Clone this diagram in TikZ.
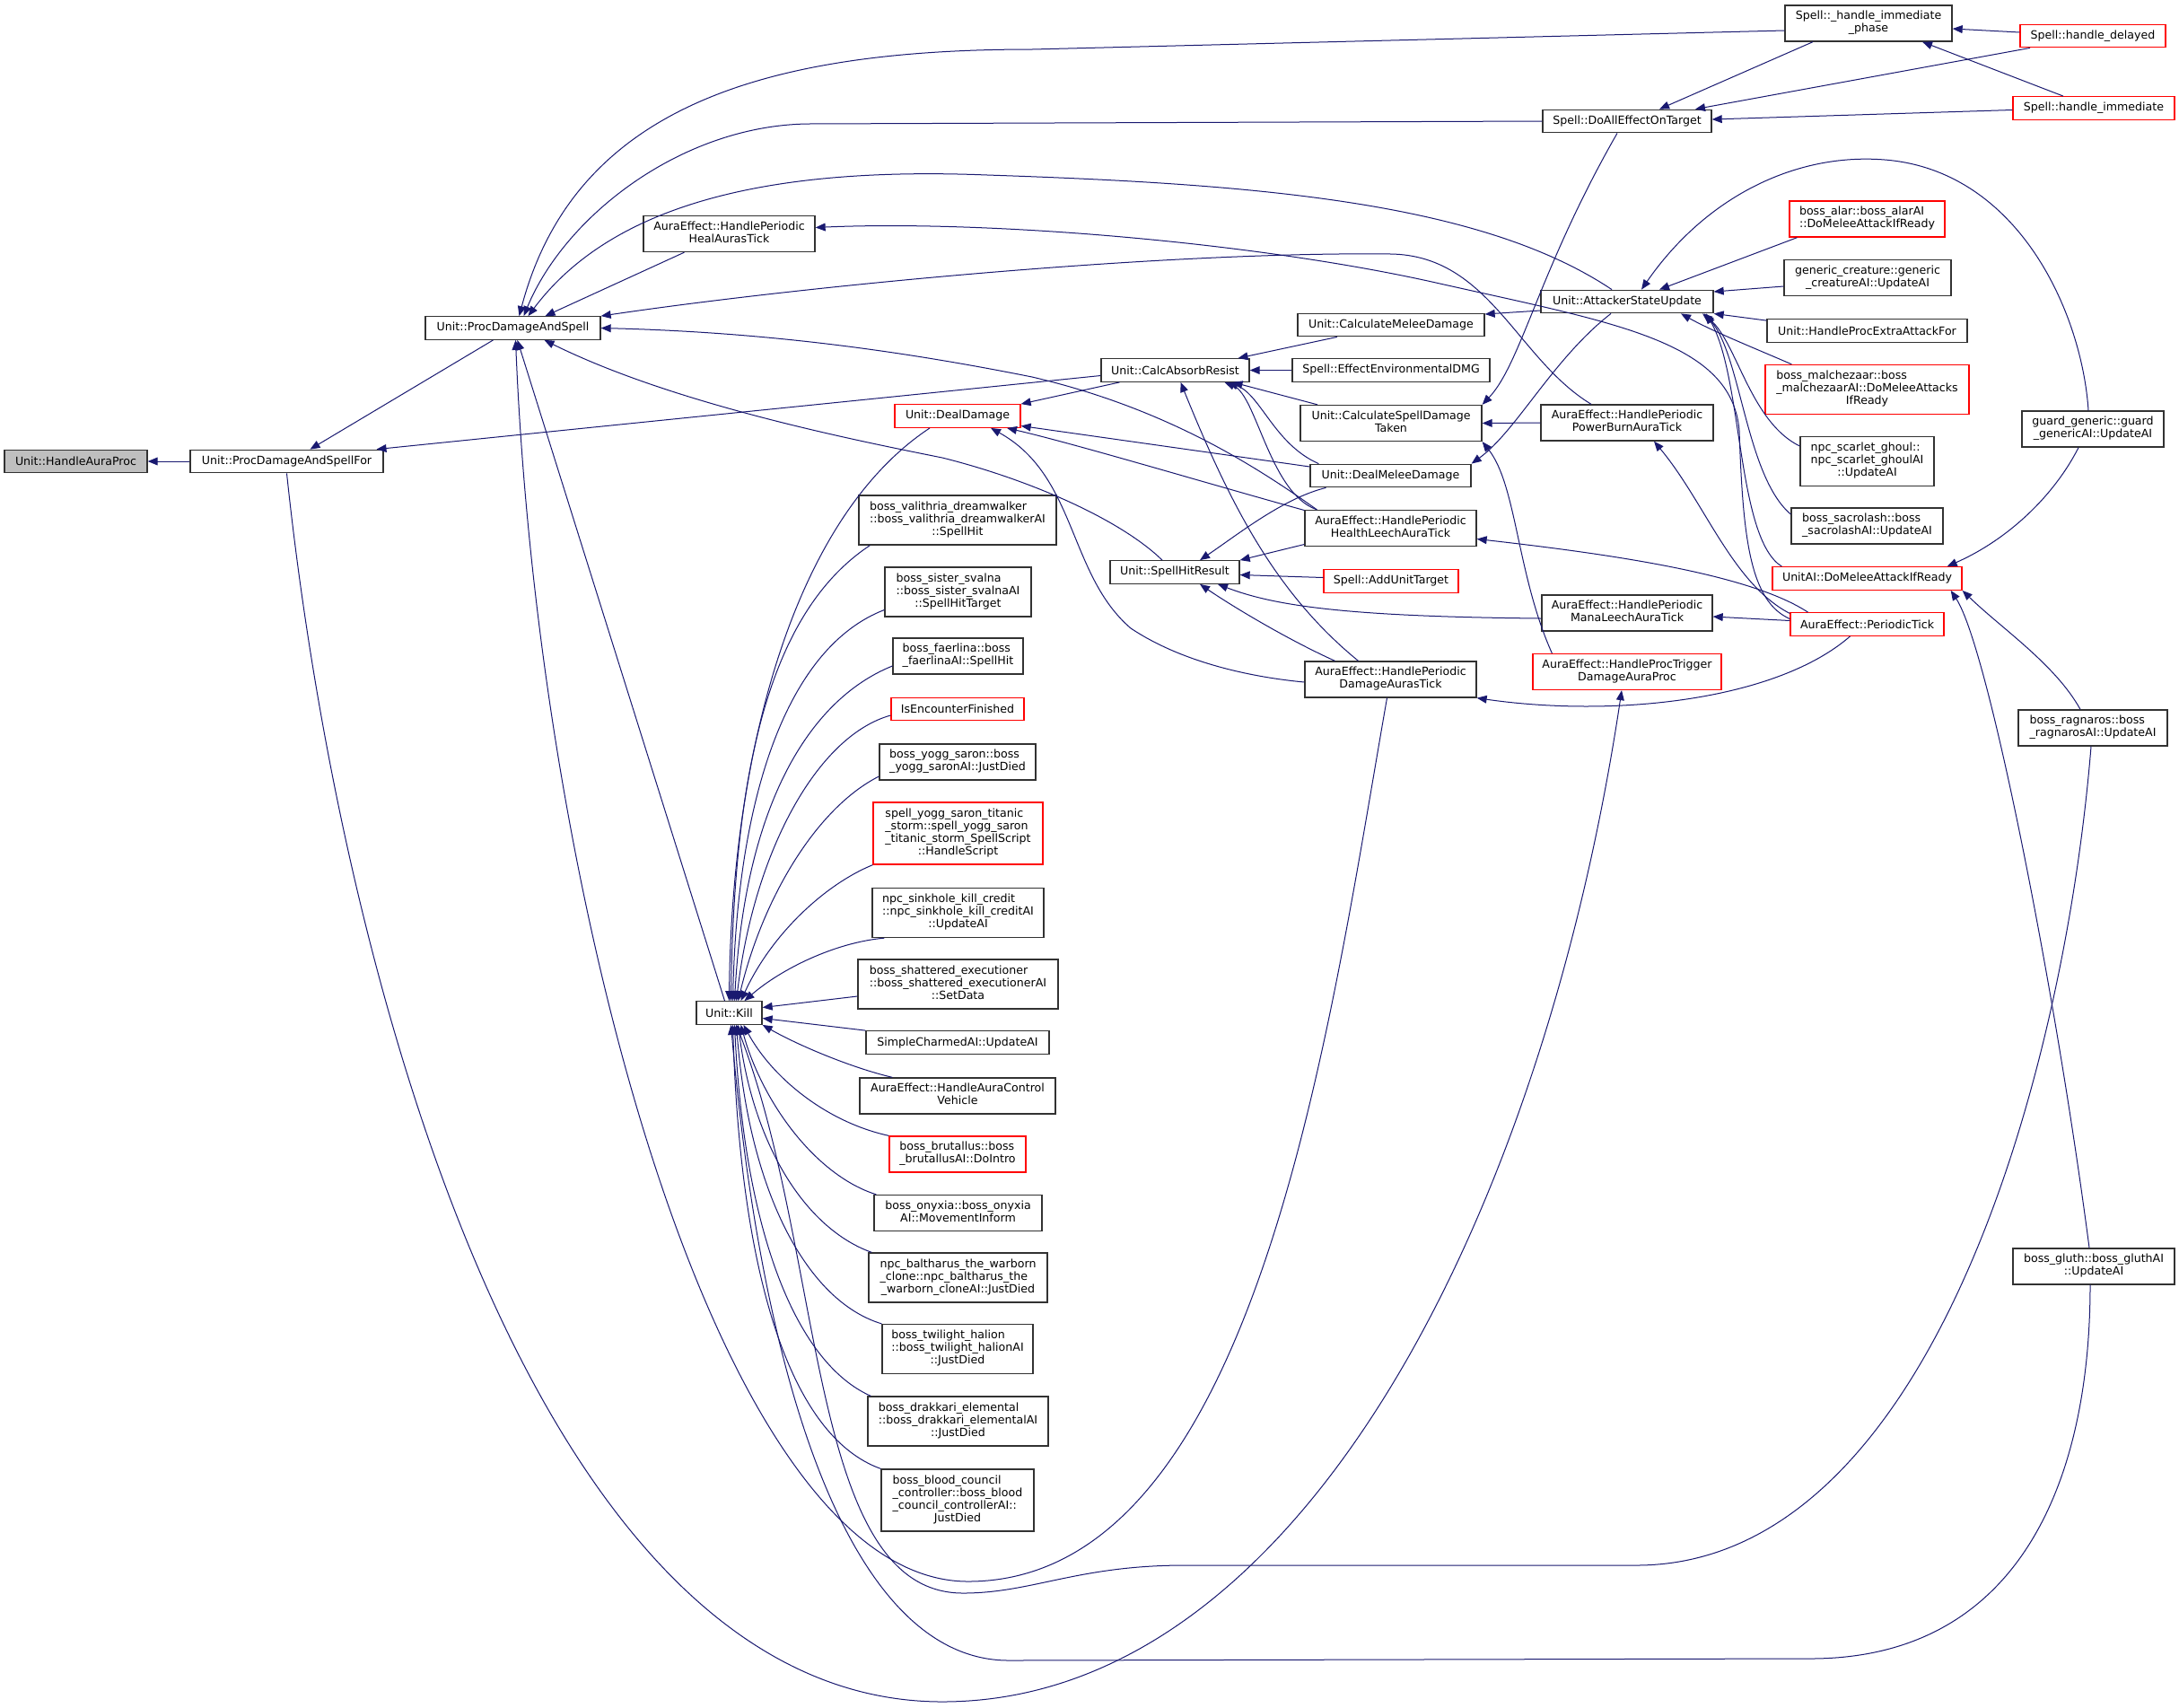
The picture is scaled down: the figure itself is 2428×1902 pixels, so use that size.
\documentclass[tikz,border=0pt]{standalone}
\usepackage{fontspec}
\setmainfont{DejaVu Sans}
\usetikzlibrary{arrows.meta}
\definecolor{edgeblue}{RGB}{25,25,112}
\definecolor{rootgray}{RGB}{191,191,191}
\definecolor{boxline}{RGB}{50,50,50}
\tikzstyle{call} = [draw=edgeblue, line width=0.5pt, arrows={Triangle[length=5.5pt,width=4.4pt]-}]
\tikzstyle{fn} = [rectangle, draw=boxline, line width=0.65pt, inner sep=0pt, fill=white]
\tikzstyle{fnred} = [fn, draw=red]
\tikzstyle{fnroot} = [fn, fill=rootgray]
\tikzset{every node/.style={font=\fontsize{6.3}{7}\selectfont}}
\tikzset{l1/.style={minimum height=12.75pt}, l2/.style={minimum height=20pt}, l3/.style={minimum height=27.5pt}, l4/.style={minimum height=34.5pt}}
\newcommand{\fnlines}[2]{\begin{tabular}{@{}l@{}}#1\\\multicolumn{1}{@{}c@{}}{#2}\end{tabular}}

\begin{document}
\begin{tikzpicture}[x=0.5pt, y=-0.5pt]
    \useasboundingbox (0,0) rectangle (2428,1902);
    \fill[white] (0,0) rectangle (2428,1902);

    \node[fnroot, l1, minimum width=79.5pt] (auraproc) at (84.5,514) {Unit::HandleAuraProc};
    \node[fn, l1, minimum width=107.5pt] (pdsfor) at (319.5,514) {Unit::ProcDamageAndSpellFor};
    \node[fn, l1, minimum width=97.5pt] (pds) at (571.5,365.5) {Unit::ProcDamageAndSpell};
    \node[fn, l2, minimum width=95.5pt] (healtick) at (812.5,260.5) {\fnlines{AuraEffect::HandlePeriodic}{HealAurasTick}};
    \node[fn, l1, minimum width=36.5pt] (kill) at (812.5,1128.5) {Unit::Kill};
    \node[fn, l2, minimum width=93pt] (immphase) at (2082,26) {\fnlines{Spell::\_handle\_immediate}{\_phase}};
    \node[fnred, l1, minimum width=81pt] (delayed) at (2332,40) {Spell::handle\_delayed};
    \node[fnred, l1, minimum width=90pt] (immediate) at (2333,120.5) {Spell::handle\_immediate};
    \node[fn, l1, minimum width=94pt] (doall) at (1813,135) {Spell::DoAllEffectOnTarget};
    \node[fnred, l2, minimum width=86.5pt] (alar) at (2080.5,244) {\fnlines{boss\_alar::boss\_alarAI}{::DoMeleeAttackIfReady}};
    \node[fn, l2, minimum width=93pt] (generic) at (2081,309.5) {\fnlines{generic\_creature::generic}{\_creatureAI::UpdateAI}};
    \node[fn, l1, minimum width=96pt] (attacker) at (1813,336) {Unit::AttackerStateUpdate};
    \node[fn, l1, minimum width=111.5pt] (extra) at (2080.5,368.5) {Unit::HandleProcExtraAttackFor};
    \node[fnred, l3, minimum width=113.5pt] (malchezaar) at (2080.5,434) {\fnlines{boss\_malchezaar::boss\\\_malchezaarAI::DoMeleeAttacks}{IfReady}};
    \node[fn, l3, minimum width=74.5pt] (ghoul) at (2080.5,514) {\fnlines{npc\_scarlet\_ghoul::\\npc\_scarlet\_ghoulAI}{::UpdateAI}};
    \node[fn, l2, minimum width=84.5pt] (sacrolash) at (2080.5,586) {\fnlines{boss\_sacrolash::boss}{\_sacrolashAI::UpdateAI}};
    \node[fn, l2, minimum width=79pt] (guard) at (2332,478) {\fnlines{guard\_generic::guard}{\_genericAI::UpdateAI}};
    \node[fnred, l1, minimum width=105.5pt] (meleeready) at (2080.5,644.5) {UnitAI::DoMeleeAttackIfReady};
    \node[fnred, l1, minimum width=85.5pt] (periodic) at (2080.5,695.5) {AuraEffect::PeriodicTick};
    \node[fn, l2, minimum width=95pt] (manaleech) at (1813,683) {\fnlines{AuraEffect::HandlePeriodic}{ManaLeechAuraTick}};
    \node[fnred, l2, minimum width=105pt] (proctrigger) at (1813,748.5) {\fnlines{AuraEffect::HandleProcTrigger}{DamageAuraProc}};
    \node[fn, l2, minimum width=83pt] (ragnaros) at (2332,811) {\fnlines{boss\_ragnaros::boss}{\_ragnarosAI::UpdateAI}};
    \node[fn, l2, minimum width=90pt] (gluth) at (2333,1411) {\fnlines{boss\_gluth::boss\_gluthAI}{::UpdateAI}};
    \node[fn, l1, minimum width=104pt] (meleedmg) at (1550,362) {Unit::CalculateMeleeDamage};
    \node[fn, l1, minimum width=82.5pt] (absorb) at (1309.5,412.5) {Unit::CalcAbsorbResist};
    \node[fn, l1, minimum width=110pt] (envdmg) at (1550,412.5) {Spell::EffectEnvironmentalDMG};
    \node[fn, l2, minimum width=101pt] (spelldmg) at (1550,471.5) {\fnlines{Unit::CalculateSpellDamage}{Taken}};
    \node[fnred, l1, minimum width=70pt] (dealdmg) at (1067,463.5) {Unit::DealDamage};
    \node[fn, l1, minimum width=89.5pt] (dealmelee) at (1549.5,530) {Unit::DealMeleeDamage};
    \node[fn, l2, minimum width=96pt] (powerburn) at (1813,471) {\fnlines{AuraEffect::HandlePeriodic}{PowerBurnAuraTick}};
    \node[fn, l2, minimum width=95.5pt] (healthleech) at (1549.5,588.5) {\fnlines{AuraEffect::HandlePeriodic}{HealthLeechAuraTick}};
    \node[fn, l1, minimum width=72pt] (spellhit) at (1309,637.5) {Unit::SpellHitResult};
    \node[fnred, l1, minimum width=75pt] (addtarget) at (1550,647.5) {Spell::AddUnitTarget};
    \node[fn, l2, minimum width=95.5pt] (dmgtick) at (1549.5,757) {\fnlines{AuraEffect::HandlePeriodic}{DamageAurasTick}};
    \node[fn, l3, minimum width=110pt] (valithria) at (1067,579.5) {\fnlines{boss\_valithria\_dreamwalker\\::boss\_valithria\_dreamwalkerAI}{::SpellHit}};
    \node[fn, l3, minimum width=81.5pt] (svalna) at (1067.5,659.5) {\fnlines{boss\_sister\_svalna\\::boss\_sister\_svalnaAI}{::SpellHitTarget}};
    \node[fn, l2, minimum width=72.5pt] (faerlina) at (1067.5,731) {\fnlines{boss\_faerlina::boss}{\_faerlinaAI::SpellHit}};
    \node[fnred, l1, minimum width=74pt] (encounter) at (1067,790) {IsEncounterFinished};
    \node[fn, l2, minimum width=87pt] (yogg) at (1067,849) {\fnlines{boss\_yogg\_saron::boss}{\_yogg\_saronAI::JustDied}};
    \node[fnred, l4, minimum width=94.5pt] (titanic) at (1067.5,928.5) {\fnlines{spell\_yogg\_saron\_titanic\\\_storm::spell\_yogg\_saron\\\_titanic\_storm\_SpellScript}{::HandleScript}};
    \node[fn, l3, minimum width=95.5pt] (sinkhole) at (1067.5,1017) {\fnlines{npc\_sinkhole\_kill\_credit\\::npc\_sinkhole\_kill\_creditAI}{::UpdateAI}};
    \node[fn, l3, minimum width=111.5pt] (shattered) at (1067.5,1096.5) {\fnlines{boss\_shattered\_executioner\\::boss\_shattered\_executionerAI}{::SetData}};
    \node[fn, l1, minimum width=102pt] (charmed) at (1067,1161.5) {SimpleCharmedAI::UpdateAI};
    \node[fn, l2, minimum width=109pt] (vehicle) at (1067,1221) {\fnlines{AuraEffect::HandleAuraControl}{Vehicle}};
    \node[fnred, l2, minimum width=76pt] (brutallus) at (1067,1286) {\fnlines{boss\_brutallus::boss}{\_brutallusAI::DoIntro}};
    \node[fn, l2, minimum width=93.5pt] (onyxia) at (1067.5,1351.5) {\fnlines{boss\_onyxia::boss\_onyxia}{AI::MovementInform}};
    \node[fn, l3, minimum width=99.5pt] (baltharus) at (1067.5,1423.5) {\fnlines{npc\_baltharus\_the\_warborn\\\_clone::npc\_baltharus\_the}{\_warborn\_cloneAI::JustDied}};
    \node[fn, l3, minimum width=84pt] (halion) at (1067,1503) {\fnlines{boss\_twilight\_halion\\::boss\_twilight\_halionAI}{::JustDied}};
    \node[fn, l3, minimum width=100.5pt] (drakkari) at (1067.5,1583.5) {\fnlines{boss\_drakkari\_elemental\\::boss\_drakkari\_elementalAI}{::JustDied}};
    \node[fn, l4, minimum width=85pt] (council) at (1067,1671.5) {\fnlines{boss\_blood\_council\\\_controller::boss\_blood\\\_council\_controllerAI::}{JustDied}};

    \draw[call] (auraproc.east) -- (pdsfor.west);
    \draw[call] ([xshift=13pt]pdsfor.north) -- ([xshift=-11pt]pds.south);
    \draw[call] ([xshift=50pt]pdsfor.north) -- ([yshift=-3pt]absorb.west);
    \draw[call] ([xshift=-3pt]proctrigger.south) .. controls (1720,1350) and (1450,1896) .. (1050,1896) .. controls (600,1896) and (380,1100) .. (pdsfor.south);

    \draw[call] ([xshift=3.5pt]pds.north) .. controls (640,120) and (850,55) .. (1150,55) -- ([yshift=-4pt]immphase.west);
    \draw[call] ([xshift=6pt]pds.north) .. controls (630,240) and (760,140) .. (900,138) -- (doall.west);
    \draw[call] ([xshift=8.5pt]pds.north) .. controls (680,230) and (850,185) .. (1100,195) .. controls (1400,205) and (1650,225) .. ([xshift=-8.5pt]attacker.north);
    \draw[call] ([xshift=18pt]pds.north) -- ([xshift=-25pt]healtick.south);
    \draw[call] (pds.north east) .. controls (900,318) and (1300,280) .. (1550,283) .. controls (1660,285) and (1690,400) .. ([xshift=-20pt]powerburn.north);
    \draw[call] (pds.east) .. controls (850,370) and (1000,390) .. (1150,420) .. controls (1300,455) and (1400,520) .. ([xshift=7pt]healthleech.north west);
    \draw[call] ([xshift=17.5pt]pds.south) .. controls (750,450) and (950,490) .. (1050,510) .. controls (1150,535) and (1250,580) .. ([xshift=-7pt]spellhit.north);
    \draw[call] ([xshift=2.5pt]pds.south) -- ([xshift=-2.5pt]kill.north);
    \draw[call] ([xshift=1.5pt]pds.south) .. controls (600,1000) and (800,1764) .. (1080,1762) .. controls (1400,1760) and (1480,1150) .. ([xshift=-2pt]dmgtick.south);

    \draw[call] ([yshift=-3pt]immphase.east) -- ([yshift=2pt]delayed.west);
    \draw[call] ([xshift=30pt]immphase.south) -- ([xshift=-17pt]immediate.north);
    \draw[call] ([xshift=18pt]doall.north) -- ([xshift=-31pt]immphase.south);
    \draw[call] ([xshift=38pt]doall.north) -- ([xshift=-35pt]delayed.south);
    \draw[call] ([yshift=1pt]doall.east) -- ([yshift=-1pt]immediate.west);
    \draw[call] (spelldmg.north east) .. controls (1695,405) and (1715,300) .. ([xshift=-5.5pt]doall.south);

    \draw[call] ([xshift=8pt]attacker.north) .. controls (1900,220) and (2000,170) .. (2100,178) .. controls (2250,190) and (2320,350) .. ([xshift=-2.5pt]guard.north);
    \draw[call] ([xshift=18pt]attacker.north) -- ([xshift=-39pt]alar.south);
    \draw[call] ([yshift=5.5pt]attacker.east) -- ([yshift=-4.75pt]generic.west);
    \draw[call] (attacker.south east) -- ([yshift=-1pt]extra.north west);
    \draw[call] ([xshift=30pt]attacker.south) .. controls (1910,370) and (1960,390) .. ([xshift=15pt]malchezaar.north west);
    \draw[call] ([xshift=42pt]attacker.south) .. controls (1935,380) and (1950,470) .. ([yshift=8.5pt]ghoul.west);
    \draw[call] ([xshift=43pt]attacker.south) .. controls (1940,395) and (1945,530) .. ([yshift=6.5pt]sacrolash.west);
    \draw[call] ([xshift=44pt]attacker.south) .. controls (1942,420) and (1935,600) .. ([xshift=5.5pt]meleeready.north west);
    \draw[call] ([yshift=6pt]meleedmg.east) -- ([yshift=-5pt]attacker.west);
    \draw[call] (dealmelee.north east) .. controls (1690,480) and (1730,400) .. ([xshift=-9pt]attacker.south);

    \draw[call] ([xshift=-8.5pt]meleeready.north east) .. controls (2240,600) and (2290,550) .. ([xshift=-8pt]guard.south);
    \draw[call] (meleeready.south east) .. controls (2230,700) and (2290,740) .. ([xshift=-7pt]ragnaros.north);
    \draw[call] ([xshift=-6.5pt]meleeready.south east) .. controls (2215,720) and (2290,1100) .. ([xshift=-2.5pt]gluth.north);

    \draw[call] ([xshift=35pt]absorb.north) -- ([xshift=-30pt]meleedmg.south);
    \draw[call] (absorb.east) -- (envdmg.west);
    \draw[call] ([xshift=32pt]absorb.south) -- ([xshift=-41pt]spelldmg.north);
    \draw[call] ([xshift=29.5pt]absorb.south) .. controls (1405,440) and (1420,495) .. ([xshift=5pt]dealmelee.north west);
    \draw[call] ([xshift=27.5pt]absorb.south) .. controls (1400,440) and (1415,550) .. ([xshift=7pt]healthleech.north west);
    \draw[call] ([xshift=3pt]absorb.south) .. controls (1370,560) and (1420,660) .. ([xshift=-18pt]dmgtick.north);

    \draw[call] (dealdmg.north east) -- ([xshift=-31pt]absorb.south);
    \draw[call] ([yshift=-5.5pt]dealdmg.east) -- ([yshift=5pt]dealmelee.west);
    \draw[call] ([xshift=27.5pt]dealdmg.south) .. controls (1200,495) and (1350,540) .. ([yshift=10pt]healthleech.west);
    \draw[call] ([xshift=18.5pt]dealdmg.south) .. controls (1200,530) and (1190,640) .. (1260,700) .. controls (1320,740) and (1400,755) .. ([yshift=-1.5pt]dmgtick.west);
    \draw[call] (kill.north) .. controls (815,850) and (880,580) .. ([xshift=-15.5pt]dealdmg.south);

    \draw[call] (spelldmg.east) -- (powerburn.west);
    \draw[call] (spelldmg.south east) .. controls (1690,540) and (1690,640) .. ([xshift=11pt]proctrigger.north west);

    \draw[call] ([xshift=14pt]spellhit.north) .. controls (1380,595) and (1430,555) .. ([xshift=-36pt]dealmelee.south);
    \draw[call] (spellhit.north east) -- ([yshift=-9pt]healthleech.west);
    \draw[call] ([yshift=-1.5pt]spellhit.east) -- ([yshift=2pt]addtarget.west);
    \draw[call] ([xshift=24pt]spellhit.south) .. controls (1420,675) and (1500,687) .. ([yshift=-3pt]manaleech.west);
    \draw[call] ([xshift=14pt]spellhit.south) .. controls (1380,680) and (1440,715) .. ([xshift=-31pt]dmgtick.north);

    \draw[call] ([yshift=3.5pt]healtick.east) .. controls (1100,245) and (1400,270) .. (1600,315) .. controls (1800,360) and (1930,380) .. (1938,480) .. controls (1942,600) and (1950,670) .. ([yshift=3pt]periodic.west);
    \draw[call] ([xshift=15pt]powerburn.south) .. controls (1900,560) and (1930,650) .. ([yshift=6pt]periodic.west);
    \draw[call] ([yshift=-2pt]manaleech.east) -- ([yshift=2pt]periodic.west);
    \draw[call] ([yshift=-6pt]healthleech.east) .. controls (1800,618) and (1950,640) .. ([xshift=-33pt]periodic.north);
    \draw[call] (dmgtick.south east) .. controls (1800,800) and (1980,780) .. ([xshift=-9.5pt]periodic.south);

    \draw[call] ([xshift=1pt]kill.north) .. controls (818,850) and (860,680) .. ([xshift=6.5pt]valithria.south west);
    \draw[call] ([xshift=2pt]kill.north) .. controls (822,880) and (880,720) .. ([yshift=-10pt]svalna.west);
    \draw[call] ([xshift=3pt]kill.north) .. controls (830,900) and (900,780) .. ([yshift=-5.5pt]faerlina.west);
    \draw[call] ([xshift=4pt]kill.north) .. controls (840,950) and (910,820) .. ([yshift=-3.5pt]encounter.west);
    \draw[call] ([xshift=5pt]kill.north) .. controls (850,1000) and (910,900) .. ([yshift=-8pt]yogg.west);
    \draw[call] ([xshift=6.5pt]kill.north) .. controls (860,1040) and (920,985) .. (titanic.south west);
    \draw[call] ([xshift=8.5pt]kill.north) .. controls (870,1080) and (930,1050) .. ([xshift=7pt]sinkhole.south west);
    \draw[call] ([yshift=3pt]kill.east) -- ([yshift=-6.75pt]shattered.west);
    \draw[call] ([yshift=-3pt]kill.east) -- (charmed.north west);
    \draw[call] (kill.south east) .. controls (890,1165) and (950,1190) .. ([xshift=18.5pt]vehicle.north west);
    \draw[call] ([xshift=8pt]kill.south) .. controls (860,1200) and (920,1250) .. (brutallus.north west);
    \draw[call] ([xshift=6.5pt]kill.south) .. controls (850,1230) and (910,1310) .. ([xshift=1.5pt]onyxia.north west);
    \draw[call] ([xshift=5pt]kill.south) .. controls (840,1280) and (900,1370) .. ([xshift=2pt]baltharus.north west);
    \draw[call] ([xshift=4pt]kill.south) .. controls (835,1330) and (900,1450) .. (halion.north west);
    \draw[call] ([xshift=3pt]kill.south) .. controls (830,1380) and (890,1520) .. ([xshift=2pt]drakkari.north west);
    \draw[call] ([xshift=2pt]kill.south) .. controls (825,1420) and (880,1600) .. (council.north west);
    \draw[call] ([xshift=4pt]kill.south) .. controls (920,1400) and (900,1775) .. (1073,1775) .. controls (1150,1775) and (1200,1744) .. (1320,1744) -- (1823,1744) .. controls (2150,1744) and (2300,1200) .. ([xshift=-1pt]ragnaros.south);
    \draw[call] ([xshift=1pt]kill.south) .. controls (850,1550) and (950,1850) .. (1124,1850) -- (2017,1848) .. controls (2250,1848) and (2329,1650) .. ([xshift=-2pt]gluth.south);
\end{tikzpicture}
\end{document}
